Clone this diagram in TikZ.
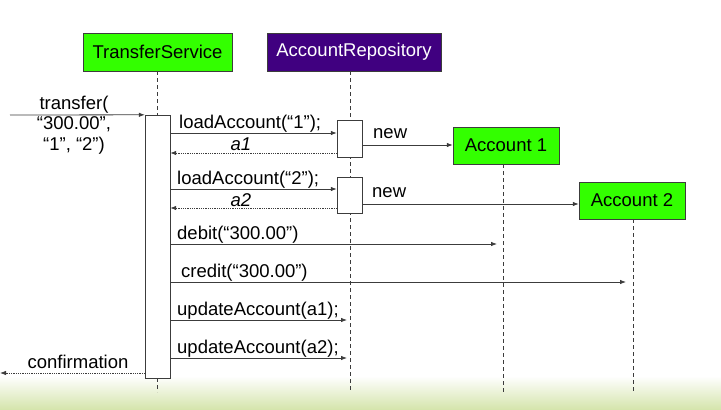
\documentclass[tikz,border=0pt]{standalone}
\usepackage{fontspec}
\setmainfont{Liberation Sans}
\usetikzlibrary{arrows.meta}

\definecolor{objgreen}{RGB}{51,255,0}
\definecolor{repopurple}{RGB}{64,0,128}
\definecolor{lineclr}{RGB}{60,60,60}
\definecolor{grassclr}{RGB}{212,228,170}

\tikzset{
  every node/.style={font=\fontsize{18.5}{20.5}\selectfont, text=black},
  objbox/.style={draw=lineclr, fill=objgreen, minimum height=38, inner sep=0pt},
  actbox/.style={draw=lineclr, fill=white, minimum width=25, inner sep=0pt},
  lifeline/.style={draw=lineclr, dashed, dash pattern=on 4pt off 3pt, thin},
  msg/.style={draw=lineclr, thick, -{Latex[length=6pt,width=4.5pt]}},
  reply/.style={draw=lineclr, thick, densely dotted, -{Latex[length=6pt,width=4.5pt]}},
  msglabel/.style={anchor=west, inner sep=0pt}
}

\begin{document}
\begin{tikzpicture}[x=1pt, y=-1pt]
\useasboundingbox (0,0) rectangle (721,410);
%% background fade at the bottom
\shade[top color=white, bottom color=grassclr] (0,376) rectangle (721,410);

%% objects
\node[objbox, minimum width=149] (ts) at (157.5,52) {TransferService};
\node[objbox, fill=repopurple, minimum width=174, text=white] (repo) at (354,52) {\color{white}AccountRepository};
\node[objbox, minimum width=106, minimum height=37] (acc1) at (506,145.5) {Account 1};
\node[objbox, minimum width=106, minimum height=37] (acc2) at (632,200.5) {Account 2};

%% lifelines
\coordinate (tsend) at (157.5,392);
\coordinate (repoend) at (350,392);
\coordinate (acc1end) at (503,392);
\coordinate (acc2end) at (633,392);
\draw[lifeline] (ts.south) -- (ts.south |- 0,115);
\draw[lifeline] (ts.south |- 0,378) -- (tsend);
\draw[lifeline] (repoend |- repo.south) -- (repoend);
\draw[lifeline] (acc1end |- acc1.south) -- (acc1end);
\draw[lifeline] (acc2end |- acc2.south) -- (acc2end);

%% activations
\node[actbox, minimum height=263] (tsact) at (157.5,246.5) {};
\node[actbox, minimum height=37] (rep1) at (349.5,138.5) {};
\node[actbox, minimum height=36] (rep2) at (349.5,195) {};

%% incoming call
\coordinate (caller) at (10,115);
\draw[msg] (caller) -- (tsact.north west);
\node[align=center, inner sep=0pt] (transfer) at (74,125) {transfer(\\``300.00'',\\``1'', ``2'')};

%% first account
\draw[msg] (tsact.east |- 0,133) -- (rep1.west |- 0,133);
\node[msglabel] (load1) at (179,124) {loadAccount(``1'');};
\draw[reply] (rep1.west |- 0,153) -- (tsact.east |- 0,153);
\node[inner sep=0pt] (a1) at (241,144) {\itshape a1};
\draw[msg] (rep1.east |- 0,145) -- (acc1.west |- 0,145);
\node[msglabel] (new1) at (373,134) {new};

%% second account
\draw[msg] (tsact.east |- 0,189) -- (rep2.west |- 0,189);
\node[msglabel] (load2) at (177,180) {loadAccount(``2'');};
\draw[reply] (rep2.west |- 0,208) -- (tsact.east |- 0,208);
\node[inner sep=0pt] (a2) at (241,200) {\itshape a2};
\draw[msg] (rep2.east |- 0,204) -- (acc2.west |- 0,204);
\node[msglabel] (new2) at (372,193) {new};

%% transfer itself
\draw[msg, shorten >=6pt] (tsact.east |- 0,244) -- (acc1end |- 0,244);
\node[msglabel] (debit) at (177,235) {debit(``300.00'')};
\draw[msg, shorten >=7pt] (tsact.east |- 0,282) -- (acc2end |- 0,282);
\node[msglabel] (credit) at (181,273) {credit(``300.00'')};
\draw[msg, shorten >=3pt] (tsact.east |- 0,320) -- (repoend |- 0,320);
\node[msglabel] (upd1) at (177,311) {updateAccount(a1);};
\draw[msg, shorten >=3pt] (tsact.east |- 0,358) -- (repoend |- 0,358);
\node[msglabel] (upd2) at (177,349) {updateAccount(a2);};

%% answer
\coordinate (back) at (0,373);
\draw[reply] (tsact.west |- back) -- (back);
\node[inner sep=0pt] (confirm) at (78,362) {confirmation};

\end{tikzpicture}
\end{document}
